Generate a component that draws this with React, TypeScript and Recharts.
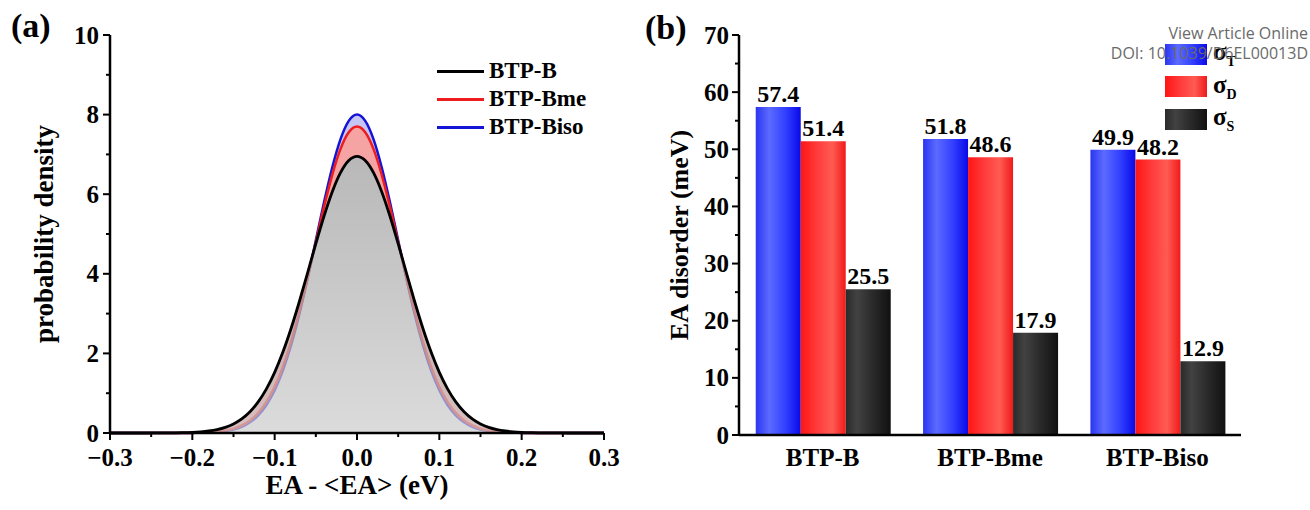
import React from "react";
import { ComposedChart, Area, BarChart, Bar, XAxis, YAxis, Legend, LabelList, Label } from "recharts";

const FONT = '"Liberation Serif", "Times New Roman", serif';

// panel (a): energy shift (eV) and probability density
const EA_SHIFT = [
  -0.3, -0.29, -0.28, -0.27, -0.26, -0.25, -0.24, -0.23, -0.22, -0.21, -0.2,
  -0.19, -0.18, -0.17, -0.16, -0.15, -0.14, -0.13, -0.12, -0.11, -0.1,
  -0.09, -0.08, -0.07, -0.06, -0.05, -0.04, -0.03, -0.02, -0.01, 0,
  0.01, 0.02, 0.03, 0.04, 0.05, 0.06, 0.07, 0.08, 0.09, 0.1,
  0.11, 0.12, 0.13, 0.14, 0.15, 0.16, 0.17, 0.18, 0.19, 0.2,
  0.21, 0.22, 0.23, 0.24, 0.25, 0.26, 0.27, 0.28, 0.29, 0.3,
];
const BTP_B = [
  0, 0, 0, 0, 0, 0.001, 0.001, 0.002, 0.005, 0.009, 0.016,
  0.029, 0.051, 0.087, 0.143, 0.229, 0.355, 0.535, 0.781, 1.108, 1.524,
  2.033, 2.631, 3.304, 4.025, 4.756, 5.452, 6.063, 6.541, 6.845, 6.95,
  6.845, 6.541, 6.063, 5.452, 4.756, 4.025, 3.304, 2.631, 2.033, 1.524,
  1.108, 0.781, 0.535, 0.355, 0.229, 0.143, 0.087, 0.051, 0.029, 0.016,
  0.009, 0.005, 0.002, 0.001, 0.001, 0, 0, 0, 0, 0,
];
const BTP_BME = [
  0, 0, 0, 0, 0, 0, 0, 0, 0.001, 0.002, 0.004,
  0.008, 0.017, 0.032, 0.061, 0.109, 0.189, 0.314, 0.505, 0.78, 1.16,
  1.662, 2.293, 3.046, 3.896, 4.797, 5.688, 6.494, 7.139, 7.556, 7.7,
  7.556, 7.139, 6.494, 5.688, 4.797, 3.896, 3.046, 2.293, 1.662, 1.16,
  0.78, 0.505, 0.314, 0.189, 0.109, 0.061, 0.032, 0.017, 0.008, 0.004,
  0.002, 0.001, 0, 0, 0, 0, 0, 0, 0, 0,
];
const BTP_BISO = [
  0, 0, 0, 0, 0, 0, 0, 0, 0.001, 0.001, 0.003,
  0.006, 0.012, 0.024, 0.047, 0.087, 0.156, 0.269, 0.444, 0.704, 1.074,
  1.573, 2.213, 2.991, 3.883, 4.842, 5.802, 6.677, 7.383, 7.841, 8.0,
  7.841, 7.383, 6.677, 5.802, 4.842, 3.883, 2.991, 2.213, 1.573, 1.074,
  0.704, 0.444, 0.269, 0.156, 0.087, 0.047, 0.024, 0.012, 0.006, 0.003,
  0.001, 0.001, 0, 0, 0, 0, 0, 0, 0, 0,
];
const DENSITY_NAMES = ["BTP-B", "BTP-Bme", "BTP-Biso"];
const DENSITY_COLORS = ["#000000", "#ee1c1c", "#1414d6"];
const X_TICKS_A = [-0.3, -0.25, -0.2, -0.15, -0.1, -0.05, 0, 0.05, 0.1, 0.15, 0.2, 0.25, 0.3];
const Y_TICKS_A = [0, 1, 2, 3, 4, 5, 6, 7, 8, 9, 10];

// panel (b): EA disorder (meV)
const MOLECULES = ["BTP-B", "BTP-Bme", "BTP-Biso"];
const SIGMA_T = [57.4, 51.8, 49.9];
const SIGMA_D = [51.4, 48.6, 48.2];
const SIGMA_S = [25.5, 17.9, 12.9];
const SIGMA_SUBS = ["T", "D", "S"];
const Y_TICKS_B = [0, 5, 10, 15, 20, 25, 30, 35, 40, 45, 50, 55, 60, 65, 70];

const densityData = EA_SHIFT.map((x, i) => ({ x, b: BTP_B[i], bme: BTP_BME[i], biso: BTP_BISO[i] }));
const disorderData = MOLECULES.map((name, i) => ({ name, t: SIGMA_T[i], d: SIGMA_D[i], s: SIGMA_S[i] }));

const AXIS = { stroke: "#000", strokeWidth: 2.5 };
const txt = { fontFamily: FONT, fontWeight: "bold" as const, fill: "#000" };

// plot box of panel (a), chart coords
const A_LEFT = 110;
const A_TOP = 35;
const A_BOTTOM = 433;
// plot box of panel (b), chart coords
const B_LEFT = 99;

const fmtShift = (v: number) => (v < -1e-9 ? "\u2212" : "") + Math.abs(v).toFixed(1);

function TickXA({ x, payload }: any) {
  const v = payload.value;
  const major = Math.abs(v * 10 - Math.round(v * 10)) < 1e-6;
  return (
    <g>
      <line x1={x} x2={x} y1={A_BOTTOM} y2={A_BOTTOM + (major ? 7 : 4)} stroke="#000" strokeWidth={2} />
      {major && (
        <text x={x} y={466} textAnchor="middle" fontSize={25} {...txt}>
          {fmtShift(v)}
        </text>
      )}
    </g>
  );
}

function TickYA({ y, payload }: any) {
  const v = payload.value;
  const major = v % 2 === 0;
  return (
    <g>
      <line x1={A_LEFT - (major ? 7 : 4)} x2={A_LEFT} y1={y} y2={y} stroke="#000" strokeWidth={2} />
      {major && (
        <text x={A_LEFT - 11} y={y + 8.5} textAnchor="end" fontSize={25} {...txt}>
          {v}
        </text>
      )}
    </g>
  );
}

function TickYB({ y, payload }: any) {
  const v = payload.value;
  const major = v % 10 === 0;
  return (
    <g>
      <line x1={B_LEFT - (major ? 7 : 4)} x2={B_LEFT} y1={y} y2={y} stroke="#000" strokeWidth={2} />
      {major && (
        <text x={B_LEFT - 10} y={y + 8.5} textAnchor="end" fontSize={25} {...txt}>
          {v}
        </text>
      )}
    </g>
  );
}

function TickXB({ x, payload }: any) {
  return (
    <text x={x} y={466} textAnchor="middle" fontSize={25} {...txt}>
      {payload.value}
    </text>
  );
}

const legendA = () => (
  <div style={{ fontFamily: FONT, fontWeight: "bold", fontSize: 23 }}>
    {DENSITY_NAMES.map((n, i) => (
      <div key={n} style={{ display: "flex", alignItems: "center", height: 28 }}>
        <div style={{ width: 47, height: 3, background: DENSITY_COLORS[i], marginRight: 5 }} />
        <span>{n}</span>
      </div>
    ))}
  </div>
);

const SWATCHES = [
  "linear-gradient(90deg, #2b35f0 0%, #5b6bff 30%, #3341ff 65%, #0a0ae8 100%)",
  "linear-gradient(90deg, #ff1515 0%, #ff3a3a 35%, #ff5b52 70%, #f01a1a 100%)",
  "linear-gradient(90deg, #2a2a2a 0%, #424242 25%, #2a2a2a 60%, #111111 100%)",
];

const legendB = () => (
  <div style={{ fontFamily: FONT, fontWeight: "bold", fontSize: 25 }}>
    {SIGMA_SUBS.map((s, i) => (
      <div key={s} style={{ display: "flex", alignItems: "center", height: 32.5 }}>
        <div style={{ width: 42, height: 21, background: SWATCHES[i], marginRight: 6 }} />
        <span>
          {"\u03c3"}
          <sub style={{ fontSize: 14 }}>{s}</sub>
        </span>
      </div>
    ))}
  </div>
);

export default function App() {
  return (
    <div style={{ position: "absolute", left: 0, top: 0, width: 1310, height: 510, background: "#fff", fontFamily: FONT }}>
      <div style={{ position: "absolute", left: 0, top: 0 }}>
        <ComposedChart width={640} height={510} data={densityData} margin={{ top: A_TOP, right: 36, bottom: 0, left: 50 }}>
          <defs>
            <linearGradient id="grayFill" x1="0" y1="0" x2="0" y2="1">
              <stop offset="0%" stopColor="#9a9a9a" />
              <stop offset="100%" stopColor="#cccccc" />
            </linearGradient>
          </defs>
          <XAxis
            dataKey="x"
            type="number"
            domain={[-0.3, 0.3]}
            ticks={X_TICKS_A}
            interval={0}
            tick={TickXA}
            tickLine={false}
            axisLine={AXIS}
            height={77}
            allowDataOverflow
          >
            <Label
              content={() => (
                <text x={357} y={494} textAnchor="middle" fontSize={27} {...txt}>
                  {"EA - <EA> (eV)"}
                </text>
              )}
            />
          </XAxis>
          <XAxis xAxisId="top" orientation="top" dataKey="x" type="number" domain={[-0.3, 0.3]} tick={false} tickLine={false} axisLine={AXIS} height={0} />
          <YAxis domain={[0, 10]} ticks={Y_TICKS_A} interval={0} tick={TickYA} tickLine={false} axisLine={AXIS} width={60}>
            <Label
              content={() => (
                <text x={44} y={234} transform="rotate(-90 44 234)" textAnchor="middle" dominantBaseline="central" fontSize={27} {...txt}>
                  probability density
                </text>
              )}
            />
          </YAxis>
          <YAxis yAxisId="right" orientation="right" domain={[0, 10]} tick={false} tickLine={false} axisLine={AXIS} width={0} />
          <Area dataKey={(d: any) => [d.bme, d.biso]} type="monotone" stroke="none" fill="#c6c6f4" fillOpacity={1} isAnimationActive={false} activeDot={false} />
          <Area dataKey={(d: any) => [d.b, d.bme]} type="monotone" stroke="none" fill="#f5a3a3" fillOpacity={1} isAnimationActive={false} activeDot={false} />
          <Area dataKey="biso" type="monotone" stroke={DENSITY_COLORS[2]} strokeWidth={2.5} fill="none" isAnimationActive={false} activeDot={false} />
          <Area dataKey="bme" type="monotone" stroke={DENSITY_COLORS[1]} strokeWidth={2.5} fill="none" isAnimationActive={false} activeDot={false} />
          <Area dataKey="b" type="monotone" stroke={DENSITY_COLORS[0]} strokeWidth={2.8} fill="url(#grayFill)" fillOpacity={0.7} isAnimationActive={false} activeDot={false} />
          <Legend layout="vertical" align="center" verticalAlign="middle" wrapperStyle={{ left: 437, top: 57 }} content={legendA} />
        </ComposedChart>
      </div>

      <div style={{ position: "absolute", left: 640, top: 0 }}>
        <BarChart width={670} height={510} data={disorderData} margin={{ top: 35, right: 69, bottom: 0, left: 39 }} barCategoryGap="10%" barGap={0}>
          <defs>
            <linearGradient id="blueBar" x1="0" y1="0" x2="1" y2="0">
              <stop offset="0%" stopColor="#2b35f0" />
              <stop offset="30%" stopColor="#5b6bff" />
              <stop offset="65%" stopColor="#3341ff" />
              <stop offset="100%" stopColor="#0a0ae8" />
            </linearGradient>
            <linearGradient id="redBar" x1="0" y1="0" x2="1" y2="0">
              <stop offset="0%" stopColor="#ff1515" />
              <stop offset="35%" stopColor="#ff3a3a" />
              <stop offset="70%" stopColor="#ff5b52" />
              <stop offset="100%" stopColor="#f01a1a" />
            </linearGradient>
            <linearGradient id="blackBar" x1="0" y1="0" x2="1" y2="0">
              <stop offset="0%" stopColor="#2a2a2a" />
              <stop offset="25%" stopColor="#424242" />
              <stop offset="60%" stopColor="#2a2a2a" />
              <stop offset="100%" stopColor="#111111" />
            </linearGradient>
          </defs>
          <XAxis dataKey="name" tick={TickXB} tickLine={false} axisLine={AXIS} height={75} interval={0} />
          <XAxis xAxisId="top" orientation="top" dataKey="name" tick={false} tickLine={false} axisLine={AXIS} height={0} />
          <YAxis domain={[0, 70]} ticks={Y_TICKS_B} interval={0} tick={TickYB} tickLine={false} axisLine={AXIS} width={60}>
            <Label
              content={() => (
                <text x={39} y={235} transform="rotate(-90 39 235)" textAnchor="middle" dominantBaseline="central" fontSize={26} {...txt}>
                  EA disorder (meV)
                </text>
              )}
            />
          </YAxis>
          <YAxis yAxisId="right" orientation="right" tick={false} tickLine={false} axisLine={AXIS} width={0} />
          <Bar dataKey="t" fill="url(#blueBar)" isAnimationActive={false}>
            <LabelList dataKey="t" position="top" offset={5} fontSize={24} {...txt} />
          </Bar>
          <Bar dataKey="d" fill="url(#redBar)" isAnimationActive={false}>
            <LabelList dataKey="d" position="top" offset={5} fontSize={24} {...txt} />
          </Bar>
          <Bar dataKey="s" fill="url(#blackBar)" isAnimationActive={false}>
            <LabelList dataKey="s" position="top" offset={5} fontSize={24} {...txt} />
          </Bar>
          <Legend layout="vertical" align="center" verticalAlign="middle" wrapperStyle={{ left: 525, top: 38 }} content={legendB} />
        </BarChart>
      </div>

      <div style={{ position: "absolute", left: 11, top: 7, fontSize: 34, fontWeight: "bold", lineHeight: "38px" }}>(a)</div>
      <div style={{ position: "absolute", left: 645, top: 9, fontSize: 34, fontWeight: "bold", lineHeight: "38px" }}>(b)</div>

      <div
        style={{
          position: "absolute",
          right: 2,
          top: 23,
          textAlign: "right",
          fontFamily: '"Open Sans", "Noto Sans", sans-serif',
          fontSize: 16,
          lineHeight: "20px",
          color: "#6a6a6a",
          pointerEvents: "none",
        }}
      >
        <div>View Article Online</div>
        <div>DOI: 10.1039/D6EL00013D</div>
      </div>
    </div>
  );
}
